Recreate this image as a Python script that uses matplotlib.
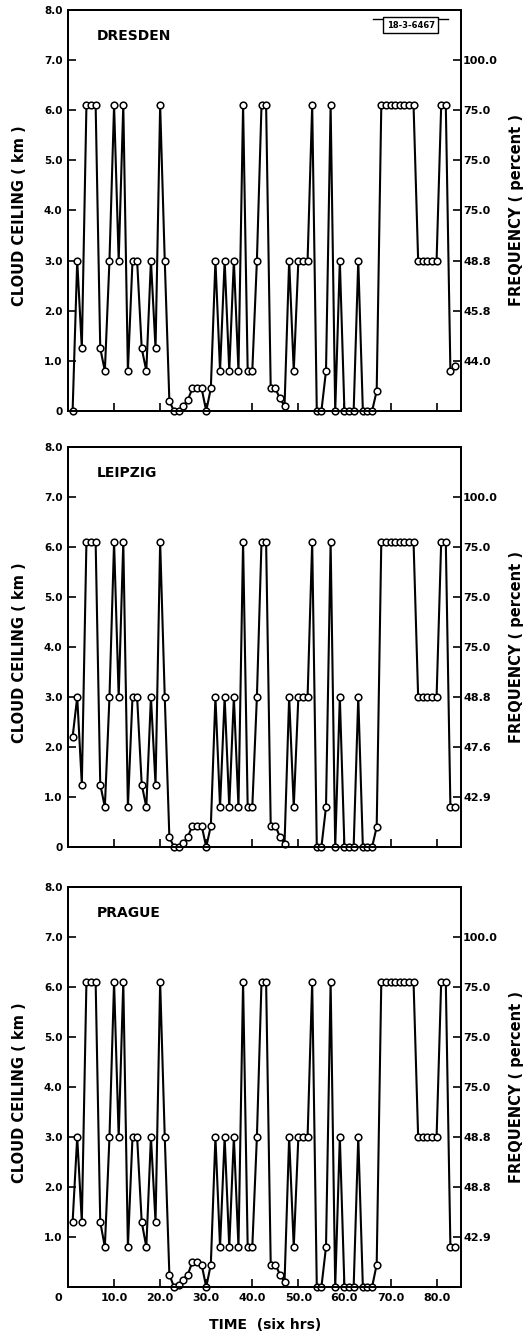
import matplotlib
matplotlib.use("Agg")
import matplotlib.pyplot as plt
from matplotlib.lines import Line2D

plt.rcParams['font.family'] = ['DejaVu Sans']
plt.rcParams['font.weight'] = 'bold'

# six-hour time steps
time_steps = list(range(1, 85))

dresden = [0.0, 3.0, 1.25, 6.1, 6.1, 6.1, 1.25, 0.8, 3.0, 6.1,
           3.0, 6.1, 0.8, 3.0, 3.0, 1.25, 0.8, 3.0, 1.25, 6.1,
           3.0, 0.2, 0.0, 0.0, 0.1, 0.22, 0.45, 0.45, 0.45, 0.0,
           0.45, 3.0, 0.8, 3.0, 0.8, 3.0, 0.8, 6.1, 0.8, 0.8,
           3.0, 6.1, 6.1, 0.45, 0.45, 0.25, 0.1, 3.0, 0.8, 3.0,
           3.0, 3.0, 6.1, 0.0, 0.0, 0.8, 6.1, 0.0, 3.0, 0.0,
           0.0, 0.0, 3.0, 0.0, 0.0, 0.0, 0.4, 6.1, 6.1, 6.1,
           6.1, 6.1, 6.1, 6.1, 6.1, 3.0, 3.0, 3.0, 3.0, 3.0,
           6.1, 6.1, 0.8, 0.9]

leipzig = [2.2, 3.0, 1.25, 6.1, 6.1, 6.1, 1.25, 0.8, 3.0, 6.1,
           3.0, 6.1, 0.8, 3.0, 3.0, 1.25, 0.8, 3.0, 1.25, 6.1,
           3.0, 0.2, 0.0, 0.0, 0.08, 0.2, 0.43, 0.43, 0.43, 0.0,
           0.42, 3.0, 0.8, 3.0, 0.8, 3.0, 0.8, 6.1, 0.8, 0.8,
           3.0, 6.1, 6.1, 0.43, 0.43, 0.2, 0.07, 3.0, 0.8, 3.0,
           3.0, 3.0, 6.1, 0.0, 0.0, 0.8, 6.1, 0.0, 3.0, 0.0,
           0.0, 0.0, 3.0, 0.0, 0.0, 0.0, 0.4, 6.1, 6.1, 6.1,
           6.1, 6.1, 6.1, 6.1, 6.1, 3.0, 3.0, 3.0, 3.0, 3.0,
           6.1, 6.1, 0.8, 0.8]

prague = [1.3, 3.0, 1.3, 6.1, 6.1, 6.1, 1.3, 0.8, 3.0, 6.1,
          3.0, 6.1, 0.8, 3.0, 3.0, 1.3, 0.8, 3.0, 1.3, 6.1,
          3.0, 0.25, 0.0, 0.05, 0.15, 0.25, 0.5, 0.5, 0.45, 0.0,
          0.45, 3.0, 0.8, 3.0, 0.8, 3.0, 0.8, 6.1, 0.8, 0.8,
          3.0, 6.1, 6.1, 0.45, 0.45, 0.25, 0.1, 3.0, 0.8, 3.0,
          3.0, 3.0, 6.1, 0.0, 0.0, 0.8, 6.1, 0.0, 3.0, 0.0,
          0.0, 0.0, 3.0, 0.0, 0.0, 0.0, 0.45, 6.1, 6.1, 6.1,
          6.1, 6.1, 6.1, 6.1, 6.1, 3.0, 3.0, 3.0, 3.0, 3.0,
          6.1, 6.1, 0.8, 0.8]

cities = ["DRESDEN", "LEIPZIG", "PRAGUE"]
series = [dresden, leipzig, prague]

left_ticks = [0, 1, 2, 3, 4, 5, 6, 7, 8]
left_labels = ["0", "1.0", "2.0", "3.0", "4.0", "5.0", "6.0", "7.0", "8.0"]
right_ticks = [1, 2, 3, 4, 5, 6, 7]
freq_labels = [
    ["44.0", "45.8", "48.8", "75.0", "75.0", "75.0", "100.0"],
    ["42.9", "47.6", "48.8", "75.0", "75.0", "75.0", "100.0"],
    ["42.9", "48.8", "48.8", "75.0", "75.0", "75.0", "100.0"],
]
time_ticks = [10, 20, 30, 40, 50, 60, 70, 80]
time_labels = ["10.0", "20.0", "30.0", "40.0", "50.0", "60.0", "70.0", "80.0"]

W, H = 530, 1342
fig = plt.figure(figsize=(W / 100, H / 100), dpi=100)

left_px, right_px = 68, 461
panels_px = [(10, 411), (447, 847), (887, 1287)]

for i, (name, vals) in enumerate(zip(cities, series)):
    top, bot = panels_px[i]
    ax = fig.add_axes([left_px / W, 1 - bot / H, (right_px - left_px) / W, (bot - top) / H])
    ax.plot(time_steps, vals, color='black', lw=1.5, marker='o', ms=4.8,
            mfc='white', mec='black', mew=1.1, clip_on=False, zorder=3)
    ax.set_xlim(0, 85.3)
    ax.set_ylim(0, 8)
    for s in ax.spines.values():
        s.set_linewidth(1.4)

    last = (i == len(cities) - 1)
    if last:
        ax.set_yticks(left_ticks[1:])
        ax.set_yticklabels(left_labels[1:])
        ax.set_xticks(time_ticks)
        ax.set_xticklabels(time_labels)
        ax.annotate("0", xy=(0, 0), xycoords='axes fraction', xytext=(-7, -4),
                    textcoords='offset points', ha='center', va='top',
                    fontsize=8, fontweight='bold')
    else:
        ax.set_yticks(left_ticks)
        ax.set_yticklabels(left_labels)
        ax.set_xticks(time_ticks)
        ax.set_xticklabels([])
    ax.tick_params(axis='y', direction='in', length=6, width=1.2, labelsize=7.5, pad=4)
    ax.tick_params(axis='x', direction='in', length=6, width=1.2, labelsize=8, pad=4)

    axr = ax.twinx()
    axr.set_ylim(0, 8)
    axr.set_yticks(right_ticks)
    axr.set_yticklabels(freq_labels[i])
    axr.tick_params(axis='y', direction='in', length=6, width=1.2, labelsize=8, pad=1.5)
    for s in axr.spines.values():
        s.set_linewidth(1.4)

    ax.text(0.074, 0.935, name, transform=ax.transAxes, ha='left', va='center',
            fontsize=10, fontweight='bold')

    yc = 1 - (top + bot) / 2 / H
    fig.text(20 / W, yc - 0.004, "CLOUD CEILING ( km )", rotation=90, ha='center',
             va='center', fontsize=10.5, fontweight='bold')
    fig.text(517 / W, yc, "FREQUENCY ( percent )", rotation=90, ha='center',
             va='center', fontsize=10.5, fontweight='bold')

    if i == 0:
        ax.text(0.872, 0.962, "18-3-6467", transform=ax.transAxes, ha='center',
                va='center', fontsize=6, fontweight='bold',
                bbox=dict(boxstyle='square,pad=0.4', fc='white', ec='black', lw=1.0))
        ax.add_line(Line2D([0.776, 0.967], [0.978, 0.978], transform=ax.transAxes,
                           color='black', lw=1.0, zorder=1))

fig.text(265 / W, 1 - 1325 / H, "TIME  (six hrs)", ha='center', va='center',
         fontsize=10, fontweight='bold')

fig.savefig("out.png", dpi=100)
